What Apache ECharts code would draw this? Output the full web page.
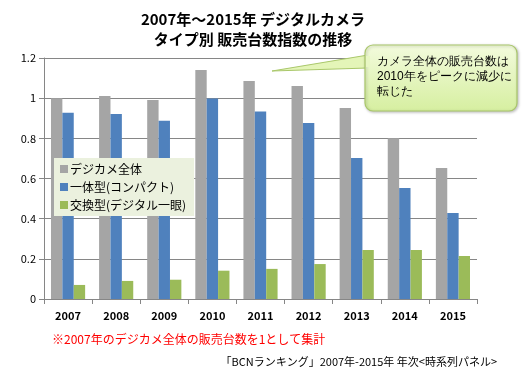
<!DOCTYPE html>
<html><head><meta charset="utf-8">
<script src="https://cdn.jsdelivr.net/npm/echarts@6/dist/echarts.min.js"></script>
<style>html,body{margin:0;padding:0;background:#fff}#c{width:525px;height:380px}</style>
</head><body><div id="c"></div>
<script>
const categories = ['2007','2008','2009','2010','2011','2012','2013','2014','2015'];
const seriesNames = ['デジカメ全体','一体型(コンパクト)','交換型(デジタル一眼)'];
const totalIdx = [1.00,1.011,0.991,1.14,1.086,1.061,0.951,0.80,0.652];
const compactIdx = [0.928,0.921,0.888,0.998,0.933,0.876,0.702,0.553,0.428];
const interchangeIdx = [0.070,0.090,0.096,0.141,0.150,0.174,0.244,0.244,0.214];
const titleLines = ['2007年～2015年 デジタルカメラ','タイプ別 販売台数指数の推移'];
const calloutText = ['カメラ全体の販売台数は','2010年をピークに減少に','転じた'];
const noteText = '※2007年のデジカメ全体の販売台数を1として集計';
const sourceText = '「BCNランキング」2007年-2015年 年次<時系列パネル>';

const FONT = '"Noto Sans CJK JP", "Noto Sans", sans-serif';
const chart = echarts.init(document.getElementById('c'));
const colors = ['#A5A5A5','#4F81BD','#9BBB59'];
chart.setOption({
  animation: false,
  textStyle: {fontFamily: FONT},
  title: {
    text: titleLines.join('\n'), left: 248, top: 4, textAlign: 'center',
    textStyle: {fontSize: 15, fontWeight: 'bold', color: '#000', lineHeight: 20, fontFamily: FONT}
  },
  grid: {left: 44, right: 48, top: 58, bottom: 81},
  legend: {
    orient: 'vertical', left: 54, top: 158, width: 144,
    backgroundColor: '#EBF1DE', padding: [5, 8, 5, 6], itemGap: 6,
    itemWidth: 8, itemHeight: 8, icon: 'rect',
    textStyle: {fontSize: 12, color: '#000', fontFamily: FONT, padding: [0,0,0,-3]},
    data: seriesNames
  },
  xAxis: {
    type: 'category', data: categories,
    axisLine: {lineStyle: {color: '#868686'}},
    axisTick: {show: true, length: 5, lineStyle: {color: '#868686'}},
    axisLabel: {fontSize: 11, fontWeight: 'bold', color: '#000', margin: 11, fontFamily: FONT}
  },
  yAxis: {
    type: 'value', min: 0, max: 1.2, interval: 0.2,
    axisLine: {show: true, lineStyle: {color: '#868686'}},
    axisTick: {show: true, length: 5, lineStyle: {color: '#868686'}},
    splitLine: {lineStyle: {color: '#868686'}},
    axisLabel: {fontSize: 11, color: '#000', margin: 8, fontFamily: FONT}
  },
  series: [
    {name: seriesNames[0], type: 'bar', data: totalIdx, itemStyle: {color: colors[0]}, barGap: '0%', barCategoryGap: '29%'},
    {name: seriesNames[1], type: 'bar', data: compactIdx, itemStyle: {color: colors[1]}, barGap: '0%', barCategoryGap: '29%'},
    {name: seriesNames[2], type: 'bar', data: interchangeIdx, itemStyle: {color: colors[2]}, barGap: '0%', barCategoryGap: '29%'}
  ],
  graphic: [
    {type: 'polygon', shape: {points: [[272,71],[368,55],[368,68]]},
      style: {fill: '#E4F5B8', stroke: '#A9C76A', lineWidth: 1}, z: 100},
    {type: 'rect', shape: {x: 365, y: 45, width: 152, height: 66, r: 8},
      style: {fill: new echarts.graphic.LinearGradient(0,0,0,1,[{offset:0,color:'#F3FBDD'},{offset:1,color:'#D6EFA0'}]),
        stroke: '#A9C76A', lineWidth: 1.2,
        shadowBlur: 3, shadowOffsetX: 1, shadowOffsetY: 1, shadowColor: 'rgba(0,0,0,0.25)'}, z: 101},
    {type: 'rect', shape: {x: 366, y: 56, width: 4, height: 11},
      style: {fill: '#E8F7C4'}, z: 102},
    {type: 'text', left: 377, top: 54, z: 103,
      style: {text: calloutText.join('\n'), fontSize: 12, lineHeight: 15, fill: '#000', font: '12px ' + FONT}},
    {type: 'text', left: 52, top: 333, z: 103,
      style: {text: noteText, fill: '#FF0000', font: '12px ' + FONT}},
    {type: 'text', right: 28, top: 356, z: 103,
      style: {text: sourceText, fill: '#000', font: '11px ' + FONT}}
  ]
});
</script></body></html>
